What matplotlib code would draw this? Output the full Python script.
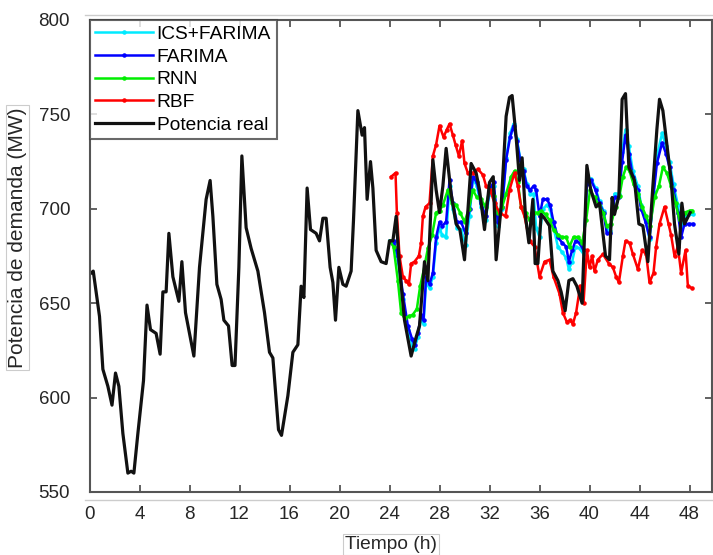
import matplotlib
matplotlib.use("Agg")
import matplotlib.pyplot as plt
from matplotlib.lines import Line2D

plt.rcParams['font.family'] = ['Liberation Sans', 'DejaVu Sans']

# potencia real (h, MW)
t_real = [0.13, 0.3, 0.8, 1.07, 1.47, 1.8, 2.08, 2.35, 2.67, 3.07, 3.33, 3.55, 3.87, 4.32,
          4.6, 4.88, 5.33, 5.65, 5.87, 6.13, 6.35, 6.67, 7.15, 7.39, 7.68, 8.0, 8.35, 8.8,
          9.33, 9.65, 9.87, 10.19, 10.53, 10.75, 11.12, 11.41, 11.64, 11.95, 12.19, 12.53,
          12.93, 13.47, 14.0, 14.4, 14.67, 15.12, 15.36, 15.87, 16.27, 16.67, 16.93, 17.15,
          17.41, 17.68, 18.13, 18.4, 18.67, 18.93, 19.25, 19.47, 19.68, 19.95, 20.27, 20.53,
          20.93, 21.12, 21.47, 21.81, 22.0, 22.21, 22.48, 22.67, 22.93, 23.33, 23.73, 24.0,
          24.27, 24.53, 24.8, 25.2, 25.73, 26.13, 26.4, 26.8, 27.07, 27.47, 27.73, 28.0,
          28.27, 28.53, 28.93, 29.33, 29.63, 30.0, 30.53, 30.93, 31.2, 31.6, 32.0, 32.3,
          32.53, 32.93, 33.33, 33.6, 33.81, 34.13, 34.4, 34.61, 34.88, 35.15, 35.47, 35.65,
          35.87, 36.13, 36.4, 36.8, 37.07, 37.47, 37.73, 38.05, 38.35, 38.67, 38.99, 39.41,
          39.79, 40.1, 40.53, 40.8, 41.28, 41.6, 41.81, 42.0, 42.35, 42.61, 42.88, 43.15,
          43.6, 43.95, 44.27, 44.67, 45.07, 45.39, 45.6, 45.87, 46.21, 46.53, 46.8, 47.15,
          47.39, 47.6, 48.05]
p_real = [666, 667, 643, 615, 606, 596, 613, 606, 581, 560, 561, 560, 581, 609,
          649, 636, 634, 623, 656, 656, 687, 664, 651, 672, 645, 634, 622, 669,
          705, 715, 696, 660, 652, 641, 638, 617, 617, 669, 728, 690,
          679, 667, 645, 624, 621, 583, 580, 601, 624, 628, 659, 653,
          711, 689, 687, 683, 695, 695, 669, 661, 641, 669, 660, 659,
          667, 694, 752, 739, 743, 705, 725, 711, 678, 672, 671, 683,
          683, 696, 669, 641, 622, 632, 638, 672, 662, 726, 710, 698,
          712, 732, 708, 692, 689, 673, 724, 719, 710, 689, 714, 717,
          673, 701, 749, 759, 760, 738, 715, 727, 696, 682, 705, 671,
          671, 697, 695, 691, 667, 662, 656, 646, 662, 663, 659, 650,
          723, 710, 701, 703, 675, 673, 706, 697, 707, 758, 761, 722,
          715, 692, 691, 672, 712, 742, 758, 752, 733, 715, 692, 676,
          703, 692, 698]

# FARIMA e ICS+FARIMA
t_farima = [24.0, 24.32, 24.67, 25.07, 25.47, 25.81, 26.0, 26.27, 26.53, 26.72, 26.93, 27.2,
            27.47, 27.73, 28.0, 28.21, 28.53, 28.8, 29.07, 29.39, 29.73, 30.08, 30.4, 30.67,
            30.99, 31.33, 31.68, 32.0, 32.32, 32.67, 33.01, 33.33, 33.65, 33.92, 34.19, 34.45,
            34.72, 34.99, 35.25, 35.52, 35.73, 36.0, 36.27, 36.59, 36.85, 37.12, 37.47, 37.81,
            38.13, 38.35, 38.61, 38.88, 39.2, 39.52, 39.79, 40.13, 40.48, 40.8, 41.12, 41.39,
            41.65, 42.0, 42.35, 42.61, 42.88, 43.15, 43.47, 43.87, 44.13, 44.48, 44.8, 45.12,
            45.39, 45.81, 46.13, 46.4, 46.72, 47.07, 47.33, 47.6, 47.95, 48.27]
p_farima = [683, 683, 675, 655, 638, 631, 628, 634, 644, 641, 664, 660,
            666, 685, 693, 691, 693, 715, 703, 693, 693, 687, 700, 717,
            714, 703, 696, 710, 714, 693, 701, 726, 738, 744, 736, 726,
            720, 712, 710, 712, 710, 696, 705, 705, 702, 693, 685, 682,
            680, 672, 678, 683, 682, 678, 713, 715, 710, 703, 698, 687,
            687, 706, 706, 725, 739, 729, 717, 710, 700, 693, 685, 707,
            724, 735, 729, 722, 710, 698, 685, 692, 692, 692]
p_ics = [683, 682, 673, 652, 636, 628, 626, 632, 642, 639, 661, 658,
         664, 682, 690, 686, 685, 712, 700, 690, 689, 681, 696, 716,
         712, 701, 694, 708, 712, 691, 700, 727, 740, 745, 737, 727,
         721, 713, 708, 708, 690, 685, 700, 702, 700, 690, 680, 677,
         674, 668, 672, 680, 679, 676, 714, 716, 711, 704, 699, 689,
         688, 708, 708, 730, 742, 733, 720, 712, 702, 694, 684, 709,
         728, 740, 733, 725, 713, 702, 690, 696, 697, 697]

# RNN
t_rnn = [24.0, 24.32, 24.67, 24.93, 25.2, 25.55, 25.87, 26.19, 26.45, 26.72, 27.07, 27.41,
         27.73, 28.0, 28.27, 28.67, 29.01, 29.33, 29.65, 30.0, 30.35, 30.67, 30.99, 31.33,
         31.68, 32.0, 32.32, 32.67, 33.01, 33.33, 33.73, 34.0, 34.27, 34.53, 34.88, 35.2,
         35.52, 35.87, 36.13, 36.48, 36.8, 37.12, 37.47, 37.81, 38.13, 38.4, 38.72, 39.07,
         39.41, 39.73, 40.05, 40.4, 40.75, 41.07, 41.39, 41.73, 42.08, 42.4, 42.67, 42.93,
         43.2, 43.52, 43.87, 44.21, 44.53, 44.85, 45.2, 45.55, 45.87, 46.19, 46.53, 46.88,
         47.2, 47.6, 48.0, 48.2]
p_rnn = [683, 680, 662, 645, 642, 643, 644, 647, 659, 667, 679, 686,
         698, 699, 702, 710, 703, 702, 698, 693, 700, 710, 706, 705,
         701, 710, 707, 698, 701, 708, 717, 720, 714, 701, 698, 694,
         698, 698, 699, 697, 694, 689, 686, 685, 685, 680, 685, 685,
         682, 694, 710, 706, 702, 698, 691, 692, 701, 707, 717, 722,
         720, 713, 708, 701, 696, 691, 706, 712, 722, 719, 712, 703,
         694, 698, 699, 699]

# RBF
t_rbf = [24.13, 24.48, 24.59, 24.8, 25.07, 25.33, 25.55, 25.73, 26.0, 26.35, 26.53, 26.67,
         26.88, 27.2, 27.47, 27.73, 28.0, 28.32, 28.59, 28.8, 29.07, 29.28, 29.55, 29.81,
         30.0, 30.27, 30.67, 31.07, 31.47, 31.73, 32.05, 32.4, 32.8, 33.28, 33.6, 34.0,
         34.27, 34.53, 34.8, 35.2, 35.6, 36.0, 36.4, 36.8, 37.12, 37.6, 37.87, 38.19,
         38.45, 38.67, 38.93, 39.25, 39.52, 39.79, 40.0, 40.21, 40.4, 40.67, 41.07, 41.55,
         41.87, 42.13, 42.35, 42.67, 42.88, 43.2, 43.47, 43.87, 44.21, 44.53, 44.8, 45.12,
         45.33, 45.6, 46.0, 46.32, 46.53, 46.8, 47.07, 47.33, 47.68, 47.87, 48.2]
p_rbf = [717, 719, 698, 675, 664, 662, 660, 671, 672, 675, 682, 696,
         701, 703, 728, 734, 744, 738, 742, 745, 739, 734, 728, 736,
         724, 719, 719, 721, 718, 712, 710, 703, 698, 696, 710, 719,
         712, 701, 696, 683, 680, 664, 672, 673, 664, 655, 645, 640,
         641, 639, 645, 659, 650, 678, 669, 675, 667, 673, 676, 671,
         669, 664, 661, 675, 683, 682, 676, 668, 678, 676, 661, 666,
         680, 692, 701, 692, 686, 675, 680, 666, 678, 659, 658]

xticks = list(range(0, 49, 4))
yticks = [550, 600, 650, 700, 750, 800]

fig = plt.figure(figsize=(7.13, 5.55), dpi=100)
ax = fig.add_axes([89.5 / 713, 63 / 555, 622.5 / 713, 472 / 555])

ax.plot(t_farima, p_ics, color='#00eaff', lw=1.8, marker='.', ms=4.5, label='ICS+FARIMA')
ax.plot(t_farima, p_farima, color='#0000ff', lw=1.8, marker='.', ms=4.5, label='FARIMA')
ax.plot(t_rnn, p_rnn, color='#00ee00', lw=1.8, marker='.', ms=4.5, label='RNN')
ax.plot(t_rbf, p_rbf, color='#ff0000', lw=1.8, marker='.', ms=4.5, label='RBF')
ax.plot(t_real, p_real, color='#111111', lw=2.3, label='Potencia real')

ax.set_xlim(0, 49.8)
ax.set_ylim(550, 800)
ax.set_xticks(xticks)
ax.set_yticks(yticks)
ax.tick_params(direction='in', top=True, right=True, length=5, width=1.3,
               color='#555555', labelsize=13.5, labelcolor='#262626')
ax.tick_params(axis='x', pad=10)
ax.tick_params(axis='y', pad=14)
for s in ax.spines.values():
    s.set_color('#555555')
    s.set_linewidth(1.5)

box = dict(facecolor='white', edgecolor='#cccccc', linewidth=0.8, pad=1.5)
ax.set_xlabel('Tiempo (h)', fontsize=13.8, color='#262626', bbox=box)
ax.xaxis.set_label_coords(0.484, -0.093)
ax.set_ylabel('Potencia de demanda (MW)', fontsize=15, color='#262626', bbox=box)
ax.yaxis.set_label_coords(-0.1, 0.539)

leg = ax.legend(loc='upper left', fontsize=13.8, frameon=True, fancybox=False,
                borderaxespad=0, borderpad=0.3, labelspacing=0.27, handlelength=3.0,
                handletextpad=0.2, numpoints=1)
leg.get_frame().set_edgecolor('#444444')
leg.get_frame().set_linewidth(1.5)

# thin grey frame lines above and below the axes
fig.add_artist(Line2D([85 / 713, 1], [1 - 15 / 555, 1 - 15 / 555], color='#cccccc', lw=1))
fig.add_artist(Line2D([85 / 713, 1], [1 - 500 / 555, 1 - 500 / 555], color='#cccccc', lw=1))

fig.savefig('out.png', dpi=100)
